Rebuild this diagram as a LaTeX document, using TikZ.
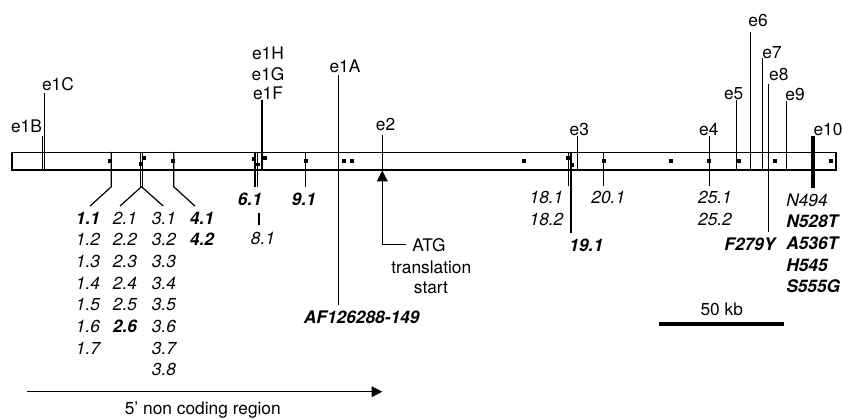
\documentclass[tikz,border=0pt]{standalone}
\usepackage{fontspec}
\setmainfont{TeX Gyre Heros}
\usetikzlibrary{
    positioning,
    arrows.meta,
    calc
}

\begin{document}
\begin{tikzpicture}[
    x=0.75pt, y=-0.75pt,
    % Gene bar
    genebar/.style={
        rectangle,
        draw,
        line width=0.9pt,
        minimum width=618pt,
        minimum height=13.1pt,
        inner sep=0pt
    },
    % Exon names
    exonlab/.style={
        font=\fontsize{13}{15}\selectfont,
        inner sep=0pt,
        anchor=base
    },
    % Clone and mutation labels
    clonelab/.style={
        font=\fontsize{13}{15}\selectfont\itshape,
        inner xsep=0pt,
        inner ysep=4pt,
        anchor=base
    },
    clonebold/.style={
        clonelab,
        font=\fontsize{13}{15}\selectfont\bfseries\itshape
    },
    % Lines
    exline/.style={line width=0.9pt},
    % Marker on the bar
    marker/.style={
        rectangle,
        fill=black,
        minimum size=2.8pt,
        inner sep=0pt
    },
    % Arrow style
    arrow/.style={
        line width=0.9pt,
        -{Triangle[length=#1, width=#1]}
    }
]

\useasboundingbox (0,0) rectangle (843,418);

% ============================================
% GENE BAR
% ============================================

\node[genebar] (bar) at (424,161.25) {};

% Markers
\foreach \mx/\my [count=\i] in {110.3/161, 144.2/157.8, 141/163.8, 173/161,
    254/158.7, 258/164.5, 264.7/157.8, 305.7/161, 344/161, 351.7/161,
    523.7/161.3, 568.3/157.8, 572.3/164.7, 603.7/161.3, 671/160.8,
    709/161, 739/161, 774.7/161, 830.7/161} {
    \node[marker] (m\i) at (\mx,\my) {};
}

% ============================================
% EXONS ABOVE THE BAR
% ============================================

\foreach \nm/\lx/\ly/\tx/\ty in {e1B/42.7/136/26.5/132, e1C/44.7/92.7/58/90,
    e1F/262/100/268/99.5, e2/382.3/135/385.5/130.7, e3/577.3/135.5/579.3/135,
    e5/736.7/100/733.7/99.5, e6/750.7/32.3/758/26.5, e7/762.7/58.3/772/58,
    e9/786.3/100.7/795/100} {
    \node[exonlab] (\nm) at (\tx,\ty) {\nm};
    \coordinate (\nm-t) at (\lx,\ly);
    \draw[exline] (\nm-t) -- (\nm-t |- bar.south);
}
\node[exonlab] (e1G) at (268,80) {e1G};
\node[exonlab] (e1H) at (268,59) {e1H};

% Exons running through the bar
\node[exonlab] (e1A) at (345,72.3) {e1A};
\coordinate (e1A-t) at (338.3,75);
\node[exonlab] (e4) at (708.8,135) {e4};
\coordinate (e4-t) at (709.3,136);
\node[exonlab] (e8) at (778.8,80) {e8};
\coordinate (e8-t) at (768.5,84.3);
\node[exonlab] (e10) at (828,135) {e10};
\coordinate (e10-t) at (812.7,136);

% ============================================
% CLONES BELOW THE BAR
% ============================================

\foreach \lab [count=\i] in {{\bfseries 1.1},1.2,1.3,1.4,1.5,1.6,1.7}
    \node[clonelab] (c1-\i) at (88,{202.3+21.7*\i}) {\lab};
\foreach \lab [count=\i] in {2.1,2.2,2.3,2.4,2.5,{\bfseries 2.6}}
    \node[clonelab] (c2-\i) at (125,{202.3+21.7*\i}) {\lab};
\foreach \lab [count=\i] in {3.1,3.2,3.3,3.4,3.5,3.6,3.7,3.8}
    \node[clonelab] (c3-\i) at (164,{202.3+21.7*\i}) {\lab};
\foreach \lab [count=\i] in {4.1,4.2}
    \node[clonebold] (c4-\i) at (202,{202.3+21.7*\i}) {\lab};

% Fan lines to the clone columns
\coordinate (k1) at (111.3,186.7);
\coordinate (k2) at (141.5,186.7);
\coordinate (k3) at (173.7,186.7);
\draw[exline] (k1 |- bar.north) -- (k1) -- ($(c1-1.north)+(2,0)$);
\draw[exline] (140.7,0 |- bar.north) -- (140.7,0 |- k2);
\draw[exline] (142.3,0 |- bar.north) -- (142.3,0 |- k2);
\draw[exline] ($(c2-1.north)+(-5,0)$) -- (k2) -- ($(c3-1.north)+(-0.7,0)$);
\draw[exline] (k3 |- bar.north) -- (k3) -- ($(c4-1.north)+(-7,0)$);

\node[clonebold] (r61) at (250,205) {6.1};
\node[clonelab] (r81) at (263,244) {8.1};
\node[clonebold] (r91) at (304,205) {9.1};
\coordinate (x61a) at (255,0);
\coordinate (x61b) at (257.5,0);
\coordinate (x81) at (259,0);
\coordinate (x91) at (305.3,0);
\draw[exline] (x61a |- bar.north) -- (x61a |- r61.north);
\draw[exline] (x61b |- bar.north) -- (x61b |- r61.north);
\draw[exline, shorten <=2pt, shorten >=1pt] (x81 |- r61.south) -- (x81 |- r81.north);
\draw[exline] (x91 |- bar.north) -- (x91 |- r91.north);

\node[clonebold] (af) at (361.7,323.3) {AF126288-149};
\draw[exline] (e1A-t) -- (e1A-t |- af.north);

\node[clonelab] (r181) at (546.5,203.5) {18.1};
\node[clonelab] (r182) at (546.5,225) {18.2};
\node[clonebold] (r191) at (586.3,251) {19.1};
\node[clonelab] (r201) at (608.3,203.5) {20.1};
\coordinate (x181) at (568.3,0);
\coordinate (x191) at (571,0);
\coordinate (x201) at (603.3,0);
\draw[exline] (x181 |- bar.north) -- (x181 |- r181.north);
\draw[exline] (x191 |- bar.north) -- (x191 |- r191.north);
\draw[exline] (x201 |- bar.north) -- (x201 |- r201.north);

\node[clonelab] (r251) at (715,203.5) {25.1};
\node[clonelab] (r252) at (715,225) {25.2};
\draw[exline] (e4-t) -- (e4-t |- r251.north);

\node[clonebold] (f279) at (750,250) {F279Y};
\draw[exline] (e8-t) -- (e8-t |- f279.north);

% Mutations
\node[clonelab, anchor=base west] (n494) at (786,206) {N494};
\node[clonebold, anchor=base west] (n528) at (786,227.7) {N528T};
\node[clonebold, anchor=base west] (a536) at (786,249.3) {A536T};
\node[clonebold, anchor=base west] (h545) at (786,271) {H545};
\node[clonebold, anchor=base west] (s555) at (786,292.5) {S555G};
\draw[line width=3pt] (e10-t) -- (e10-t |- n494.north);

% ============================================
% ANNOTATIONS
% ============================================

% Translation start
\node[exonlab, inner xsep=4.5pt] (atg) at (429,251) {ATG};
\node[exonlab] (trans) at (431.3,273) {translation};
\node[exonlab] (start) at (431,293.5) {start};
\draw[arrow=8pt] (atg.west) -- (atg.west -| e2-t) -- (e2-t |- bar.south);

% Scale bar
\node[exonlab] (kb) at (721.7,315.7) {50 kb};
\coordinate (sbl) at (659.3,323.8);
\coordinate (sbr) at (784.3,323.8);
\draw[line width=3.2pt] (sbl) -- (sbr);

% 5' non coding region
\node[exonlab] (ncr) at (202.8,414) {5’ non coding region};
\coordinate (ncrl) at (26.7,391.7);
\draw[arrow=8pt] (ncrl) -- (ncrl -| e2-t);

\end{tikzpicture}
\end{document}
